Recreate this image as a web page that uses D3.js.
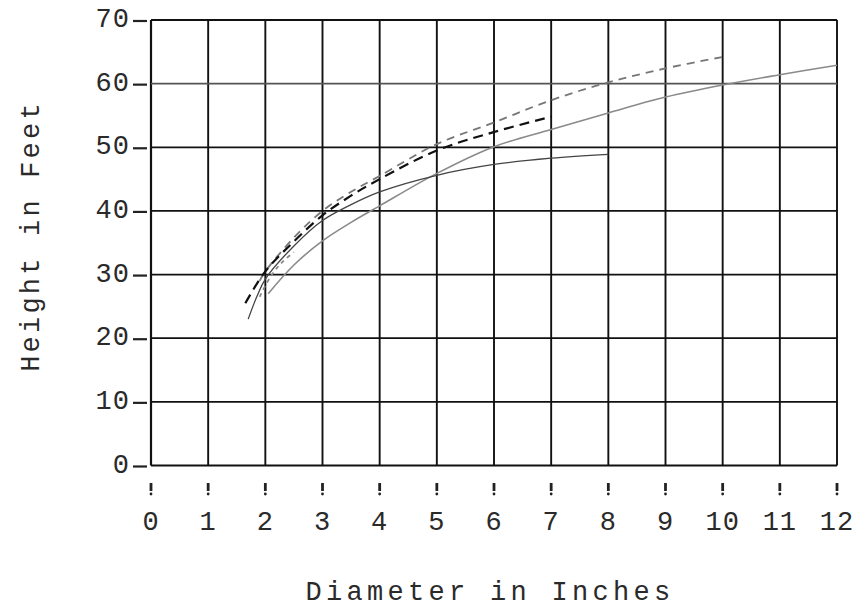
<!DOCTYPE html>
<html>
<head>
<meta charset="utf-8">
<script src="https://cdn.jsdelivr.net/npm/d3@7"></script>
<style>
  body { margin: 0; background: #fff; }
  text { font-family: "Liberation Mono", "DejaVu Sans Mono", monospace; fill: #2a2a2a; }
</style>
</head>
<body>
<div id="chart"></div>
<script>
// diameter (inches) vs height (feet)
let xTicks = [0, 1, 2, 3, 4, 5, 6, 7, 8, 9, 10, 11, 12]
let yTicks = [0, 10, 20, 30, 40, 50, 60, 70]

let dashedGray = [[1.9, 29], [2, 30.5], [2.5, 35.8], [3, 40], [3.5, 43], [4, 45.5], [5, 50.5], [6, 53.9], [7, 57.4], [8, 60.2], [9, 62.4], [10, 64.2]]
let dashedBlack = [[1.65, 25.5], [2, 30.5], [2.5, 35.2], [3, 39.3], [3.5, 42.4], [4, 45], [5, 49.5], [6, 52.4], [7, 54.8]]
let dashedShort = [[1.9, 26.5], [2.1, 29.8], [2.3, 32], [2.5, 33.5]]
let solidBlack = [[1.7, 23], [1.85, 26.5], [2, 29.3], [2.5, 34.5], [3, 38.5], [3.5, 41], [4, 43], [5, 45.6], [6, 47.3], [7, 48.3], [8, 48.9]]
let solidGray = [[2.05, 27], [2.5, 31.5], [3, 35.3], [3.5, 38.2], [4, 40.8], [5, 45.9], [6, 50.1], [7, 52.8], [8, 55.4], [9, 57.9], [10, 59.8], [11, 61.4], [12, 62.9]]

let width = 864
let height = 613

let x = d3.scaleLinear().domain([0, 12]).range([151, 837])
let y = d3.scaleLinear().domain([0, 70]).range([465.5, 20])

let svg = d3.select('#chart').append('svg')
  .attr('width', width)
  .attr('height', height)

// grid
let grid = svg.append('g')
grid.selectAll('line.v').data(xTicks).enter().append('line')
  .attr('x1', d => x(d)).attr('x2', d => x(d))
  .attr('y1', y(70)).attr('y2', y(0))
  .attr('stroke', '#111')
  .attr('stroke-width', d => d === 0 ? 2.2 : 1.9)

grid.selectAll('line.h').data(yTicks).enter().append('line')
  .attr('x1', x(0)).attr('x2', x(12))
  .attr('y1', d => y(d)).attr('y2', d => y(d))
  .attr('stroke', d => d === 60 ? '#555' : '#111')
  .attr('stroke-width', 1.8)

// y axis: labels plus little typed dashes
let yAxis = svg.append('g')
yAxis.selectAll('text').data(yTicks).enter().append('text')
  .attr('x', 130)
  .attr('y', d => y(d))
  .attr('text-anchor', 'end')
  .attr('dominant-baseline', 'central')
  .style('font-size', '27px')
  .style('letter-spacing', '1px')
  .text(d => d)
yAxis.selectAll('line').data(yTicks).enter().append('line')
  .attr('x1', 133).attr('x2', 147)
  .attr('y1', d => y(d) + 1).attr('y2', d => y(d) + 1)
  .attr('stroke', '#222')
  .attr('stroke-width', 2.2)

// x axis: "!" marks under each grid line
let xAxis = svg.append('g')
xAxis.selectAll('line').data(xTicks).enter().append('line')
  .attr('x1', d => x(d)).attr('x2', d => x(d))
  .attr('y1', 483).attr('y2', 491)
  .attr('stroke', '#222')
  .attr('stroke-width', 2.8)
xAxis.selectAll('circle').data(xTicks).enter().append('circle')
  .attr('cx', d => x(d)).attr('cy', 494)
  .attr('r', 1.4)
  .attr('fill', '#222')
xAxis.selectAll('text').data(xTicks).enter().append('text')
  .attr('x', d => x(d))
  .attr('y', 530)
  .attr('text-anchor', 'middle')
  .style('font-size', '27px')
  .style('letter-spacing', '1px')
  .text(d => d)

svg.append('text')
  .attr('x', 490)
  .attr('y', 600)
  .attr('text-anchor', 'middle')
  .style('font-size', '27px')
  .style('letter-spacing', '4.3px')
  .text('Diameter in Inches')

svg.append('text')
  .attr('transform', `translate(39, 236) rotate(-90)`)
  .attr('text-anchor', 'middle')
  .style('font-size', '27px')
  .style('letter-spacing', '3.2px')
  .text('Height in Feet')

// curves
let line = d3.line()
  .x(d => x(d[0]))
  .y(d => y(d[1]))
  .curve(d3.curveCatmullRom)

let series = [
  { data: solidGray, color: '#8a8a8a', w: 1.6, dash: '' },
  { data: solidBlack, color: '#444', w: 1.3, dash: '' },
  { data: dashedGray, color: '#777', w: 1.8, dash: '8,6' },
  { data: dashedShort, color: '#888', w: 1.8, dash: '4,4' },
  { data: dashedBlack, color: '#111', w: 2.2, dash: '10,6' }
]

svg.append('g').selectAll('path').data(series).enter().append('path')
  .attr('d', d => line(d.data))
  .attr('fill', 'none')
  .attr('stroke', d => d.color)
  .attr('stroke-width', d => d.w)
  .attr('stroke-dasharray', d => d.dash)
</script>
</body>
</html>
